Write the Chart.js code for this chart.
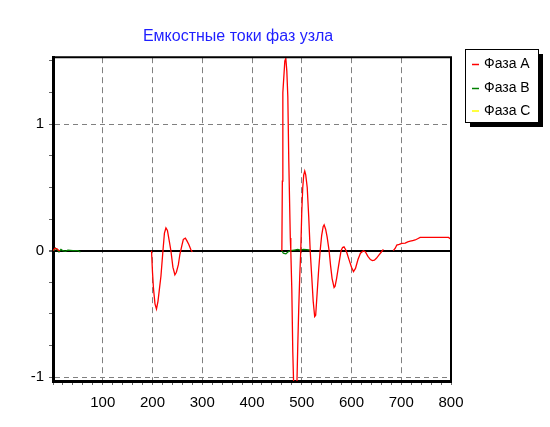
<!DOCTYPE html>
<html>
<head>
<meta charset="utf-8">
<script src="https://cdn.jsdelivr.net/npm/chart.js@4.4.1/dist/chart.umd.min.js"></script>
<style>
  html, body { margin: 0; padding: 0; background: #fff; }
  #wrap { width: 550px; height: 427px; position: relative; }
</style>
</head>
<body>
<div id="wrap"><canvas id="currentsChart"></canvas></div>
<script>
// Chart text
const chartTitle = 'Емкостные токи фаз узла';
const seriesNames = ['Фаза А', 'Фаза В', 'Фаза С'];
const seriesColors = ['#ff0000', '#008000', '#ffff00'];

// Phase A (null = no visible trace, hidden under the zero line)
const timeA = [
    0, 4, 8, 12, 14, 15,
    198, 200, 202, 205, 208, 211, 214, 217, 221, 224, 227, 230, 234, 237,
    241, 245, 248, 252, 255, 259, 262, 266, 269, 273, 277, 280, 282,
    460, 461, 462, 466, 468, 470, 472, 474, 477, 478, 480, 482, 484, 487,
    490, 492, 494, 496, 498, 500, 502, 504, 506, 508, 511, 514, 517, 520,
    523, 526, 528, 531, 534, 537, 540, 543, 545, 548, 551, 555, 558, 561,
    565, 567, 570, 574, 579, 582, 585, 588, 591, 595, 600, 604, 608, 613,
    618, 624, 628, 633, 638, 642, 646, 650, 655, 660, 664, 670,
    684, 688, 691, 696, 701, 708, 713, 718, 723, 728, 733, 738, 750, 770,
    795, 800
];
const phaseA = [
    0, 0.02, 0.015, 0, 0, null,
    0, -0.17, -0.3, -0.42, -0.46, -0.4, -0.3, -0.2, 0, 0.14, 0.18, 0.16, 0.07, 0,
    -0.13, -0.19, -0.17, -0.11, -0.03, 0.04, 0.09, 0.1, 0.08, 0.05, 0.01, -0.01, null,
    0, 0.55, 1.25, 1.5, 1.52, 1.42, 1.22, 0.7, 0.1, 0, -0.3, -0.8, -1.1, -1.2,
    -1.1, -0.75, -0.45, -0.2, 0, 0.3, 0.5, 0.6, 0.63, 0.6, 0.5, 0.27, 0, -0.2,
    -0.4, -0.52, -0.51, -0.33, -0.15, 0, 0.12, 0.19, 0.205, 0.17, 0.11, 0, -0.12, -0.22,
    -0.29, -0.28, -0.22, -0.12, 0, 0.025, 0.03, 0.01, -0.02, -0.07, -0.13, -0.165, -0.14, -0.07,
    -0.02, 0, -0.01, -0.045, -0.07, -0.078, -0.075, -0.06, -0.035, -0.01, 0.01, null,
    0, 0.02, 0.045, 0.05, 0.058, 0.06, 0.07, 0.075, 0.08, 0.085, 0.095, 0.105, 0.105, 0.105,
    0.105, 0.09
];

// Phase B: small noise near zero
const timeB = [2, 5, 8, 12, 16, 20, 25, 30, 40, 50, 55, 56, 460, 463, 468, 472, 478, 485, 492, 497, 503, 510, 518, 519];
const phaseB = [0, 0.02, 0.01, -0.01, 0.01, 0, -0.005, 0.005, 0, 0, -0.01, null, 0, -0.02, -0.025, -0.01, 0, 0.005, 0.01, 0.005, 0.01, 0.008, 0.005, null];

// Phase C: no visible trace
const timeC = [];
const phaseC = [];

// Axis settings
const xMin = 0, xMax = 800, xStep = 20;
const yMin = -1.03, yMax = 1.53, yStep = 0.25;
const yTickValues = [-1, -0.75, -0.5, -0.25, 0, 0.25, 0.5, 0.75, 1, 1.25, 1.5];
const yLabelValues = [-1, 0, 1];

function toPoints(xs, ys) {
    return xs.map((x, i) => ({ x: x, y: ys[i] }));
}

const isNear = (v, target) => Math.abs(v - target) < 1e-6;

// Top/right frame and boxed legend with shadow
const frameAndLegend = {
    id: 'frameAndLegend',
    afterDraw(chart) {
        const { ctx, chartArea: a } = chart;
        ctx.save();
        ctx.strokeStyle = '#000';
        ctx.lineWidth = 2;
        ctx.beginPath();
        ctx.moveTo(a.left, a.top);
        ctx.lineTo(a.right, a.top);
        ctx.lineTo(a.right, a.bottom);
        ctx.stroke();

        const bx = 465, by = 49, bw = 73, bh = 73;
        ctx.fillStyle = '#000';
        ctx.fillRect(bx + 5, by + 5, bw, bh);
        ctx.fillStyle = '#fff';
        ctx.fillRect(bx, by, bw, bh);
        ctx.lineWidth = 1;
        ctx.strokeRect(bx + 0.5, by + 0.5, bw, bh);

        const rows = [64.5, 88.5, 111];
        ctx.font = '14px "Liberation Sans", Arial, sans-serif';
        ctx.textBaseline = 'middle';
        chart.data.datasets.forEach((ds, i) => {
            const y = rows[i];
            ctx.strokeStyle = ds.borderColor;
            ctx.lineWidth = 1.5;
            ctx.beginPath();
            ctx.moveTo(472, y);
            ctx.lineTo(479, y);
            ctx.stroke();
            ctx.fillStyle = '#000';
            ctx.fillText(ds.label, 484, y);
        });
        ctx.restore();
    }
};

const datasets = [
    { label: seriesNames[0], data: toPoints(timeA, phaseA) },
    { label: seriesNames[1], data: toPoints(timeB, phaseB) },
    { label: seriesNames[2], data: toPoints(timeC, phaseC) }
].map((ds, i) => ({
    ...ds,
    borderColor: seriesColors[i],
    backgroundColor: seriesColors[i],
    borderWidth: 1.3,
    pointRadius: 0,
    tension: 0,
    spanGaps: false
}));

new Chart(document.getElementById('currentsChart'), {
    type: 'line',
    data: { datasets: datasets },
    options: {
        responsive: true,
        maintainAspectRatio: false,
        animation: false,
        layout: { padding: { left: 25, right: 99, top: 0, bottom: 0 } },
        plugins: {
            legend: { display: false },
            tooltip: { enabled: false },
            title: {
                display: true,
                text: chartTitle,
                color: '#1f1fff',
                font: { family: '"Liberation Sans", Arial, sans-serif', size: 16, weight: 'normal' },
                padding: { top: 27, bottom: 11 }
            }
        },
        scales: {
            x: {
                type: 'linear',
                min: xMin,
                max: xMax,
                afterFit: s => { s.height = 46; },
                ticks: {
                    stepSize: xStep,
                    autoSkip: false,
                    maxRotation: 0,
                    padding: 9,
                    color: '#000',
                    font: { family: '"Liberation Sans", Arial, sans-serif', size: 15 },
                    callback: v => (v > 0 && v % 100 === 0) ? String(v) : ''
                },
                grid: {
                    color: c => {
                        const v = c.tick ? c.tick.value : null;
                        return (v !== null && v > xMin && v < xMax && v % 100 === 0) ? '#808080' : 'rgba(0,0,0,0)';
                    },
                    lineWidth: 1,
                    tickColor: '#666',
                    tickLength: 4
                },
                border: { display: true, color: '#000', width: 3, dash: [6, 4] }
            },
            y: {
                type: 'linear',
                min: yMin,
                max: yMax,
                afterFit: s => { s.width = 28; },
                afterBuildTicks: s => {
                    s.ticks = yTickValues.map(v => ({ value: v }));
                },
                ticks: {
                    autoSkip: false,
                    padding: 5,
                    color: '#000',
                    font: { family: '"Liberation Sans", Arial, sans-serif', size: 15 },
                    callback: v => yLabelValues.some(l => isNear(v, l)) ? String(Math.round(v)) : ''
                },
                grid: {
                    color: c => {
                        const v = c.tick ? c.tick.value : null;
                        if (v === null) return 'rgba(0,0,0,0)';
                        if (isNear(v, 0)) return '#000';
                        if (isNear(v, 1) || isNear(v, -1)) return '#808080';
                        return 'rgba(0,0,0,0)';
                    },
                    lineWidth: c => (c.tick && isNear(c.tick.value, 0)) ? 2 : 1,
                    tickColor: '#666',
                    tickLength: 4
                },
                border: {
                    display: true,
                    color: '#000',
                    width: 3,
                    dash: c => (c.tick && isNear(c.tick.value, 0)) ? [] : [5, 4]
                }
            }
        }
    },
    plugins: [frameAndLegend]
});
</script>
</body>
</html>
